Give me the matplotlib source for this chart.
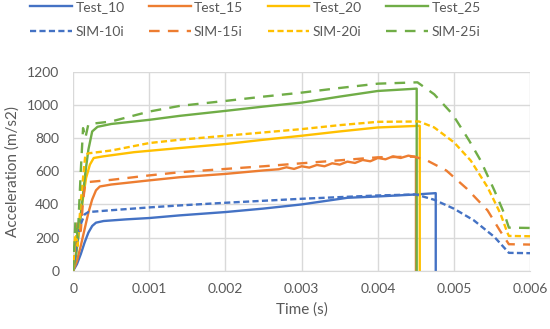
import matplotlib.pyplot as plt

plt.rcParams['font.family'] = ['Lato', 'DejaVu Sans']

# Test curves (time in s, acceleration in m/s2)
t_test10 = [0, 0.00005, 0.0001, 0.00015, 0.0002, 0.00025, 0.0003, 0.0004, 0.0007, 0.001,
            0.0014, 0.002, 0.0025, 0.003, 0.0036, 0.004, 0.0045, 0.00476, 0.00476]
a_test10 = [0, 40, 100, 170, 230, 270, 290, 300, 310, 318,
            334, 354, 375, 400, 440, 448, 460, 468, 0]

t_test15 = [0, 0.00005, 0.0001, 0.00015, 0.0002, 0.00025, 0.0003, 0.00035, 0.0005, 0.001,
            0.0014, 0.002, 0.0025, 0.0027, 0.0028, 0.0029, 0.003, 0.0031, 0.0032, 0.0033,
            0.0034, 0.0035, 0.0036, 0.0037, 0.0038, 0.0039, 0.004, 0.0041, 0.0042, 0.0043,
            0.0044, 0.0045, 0.0045]
a_test15 = [0, 60, 150, 250, 350, 430, 485, 508, 520, 545,
            564, 584, 605, 612, 624, 614, 630, 622, 638, 630,
            648, 640, 658, 650, 668, 660, 680, 672, 690, 680,
            694, 686, 0]

t_test20 = [0, 0.00003, 0.00006, 0.0001, 0.00013, 0.00017, 0.00022, 0.00027, 0.0004, 0.0008,
            0.0014, 0.002, 0.0025, 0.003, 0.0035, 0.004, 0.00455, 0.00455]
a_test20 = [0, 80, 200, 340, 440, 560, 640, 680, 690, 715,
            740, 764, 790, 814, 840, 864, 874, 0]

t_test25 = [0, 0.00004, 0.00008, 0.00012, 0.00016, 0.0002, 0.00025, 0.00032, 0.0005, 0.001,
            0.0014, 0.002, 0.0025, 0.003, 0.0035, 0.004, 0.00451, 0.00451]
a_test25 = [0, 100, 250, 420, 590, 730, 840, 868, 885, 910,
            934, 964, 990, 1014, 1050, 1084, 1098, 0]

# Simulation curves
t_sim10 = [0, 0.00003, 0.00006, 0.0001, 0.00015, 0.0002, 0.0005, 0.001, 0.0014, 0.002, 0.0025,
           0.003, 0.0035, 0.004, 0.0045, 0.00474, 0.005, 0.00526, 0.00553, 0.00572, 0.006]
a_sim10 = [0, 120, 200, 280, 340, 354, 365, 382, 394, 410, 422,
           434, 444, 454, 460, 428, 374, 304, 204, 108, 106]

t_sim15 = [0, 0.00003, 0.00006, 0.0001, 0.00013, 0.00016, 0.0002, 0.0005, 0.001, 0.0014, 0.002,
           0.0025, 0.003, 0.0035, 0.004, 0.00448, 0.00465, 0.0049, 0.00517, 0.00544, 0.0056,
           0.00572, 0.006]
a_sim15 = [0, 180, 300, 240, 420, 530, 535, 548, 575, 594, 614,
           630, 648, 666, 684, 688, 664, 604, 494, 364, 244,
           160, 158]

t_sim20 = [0, 0.00003, 0.00006, 0.0001, 0.00013, 0.00016, 0.0002, 0.0005, 0.001, 0.0014, 0.002,
           0.0025, 0.003, 0.0035, 0.004, 0.00454, 0.00474, 0.005, 0.00522, 0.00544, 0.00561,
           0.0057, 0.00572, 0.006]
a_sim20 = [0, 250, 150, 420, 560, 700, 708, 725, 770, 790, 814,
           834, 854, 878, 898, 900, 864, 774, 664, 504, 344,
           230, 210, 208]

t_sim25 = [0, 0.00003, 0.00006, 0.0001, 0.00013, 0.00016, 0.0002, 0.0005, 0.001, 0.0014, 0.002,
           0.0025, 0.003, 0.0035, 0.004, 0.00452, 0.00474, 0.00498, 0.0052, 0.00535, 0.00553,
           0.00566, 0.00572, 0.006]
a_sim25 = [0, 300, 200, 600, 860, 800, 884, 900, 960, 994, 1024,
           1050, 1074, 1102, 1128, 1136, 1064, 944, 784, 664, 484,
           344, 260, 258]

blue, orange, yellow, green = '#4472C4', '#ED7D31', '#FFC000', '#70AD47'

fig = plt.figure(figsize=(5.5, 3.29), dpi=100)
ax = fig.add_axes([0.133, 0.177, 0.831, 0.605])

lw = 1.7
short = (2.6, 1.4)
long = (4.5, 3.5)
h_t10, = ax.plot(t_test10, a_test10, color=blue, lw=lw, label='Test_10')
h_t15, = ax.plot(t_test15, a_test15, color=orange, lw=lw, label='Test_15')
h_t20, = ax.plot(t_test20, a_test20, color=yellow, lw=lw, label='Test_20')
h_t25, = ax.plot(t_test25, a_test25, color=green, lw=lw, label='Test_25')
h_s10, = ax.plot(t_sim10, a_sim10, color=blue, lw=lw, dashes=short, label='SIM-10i')
h_s15, = ax.plot(t_sim15, a_sim15, color=orange, lw=lw, dashes=long, label='SIM-15i')
h_s20, = ax.plot(t_sim20, a_sim20, color=yellow, lw=lw, dashes=short, label='SIM-20i')
h_s25, = ax.plot(t_sim25, a_sim25, color=green, lw=lw, dashes=long, label='SIM-25i')

ax.set_xlim(0, 0.006)
ax.set_ylim(0, 1200)
ax.set_xticks([0, 0.001, 0.002, 0.003, 0.004, 0.005, 0.006])
ax.set_xticklabels(['0', '0.001', '0.002', '0.003', '0.004', '0.005', '0.006'])
ax.set_yticks(range(0, 1201, 200))
ax.grid(True, color='#D9D9D9', lw=1)
ax.set_axisbelow(True)
for s in ['top', 'right', 'left']:
    ax.spines[s].set_visible(False)
ax.spines['bottom'].set_color('#D9D9D9')
ax.tick_params(length=0, labelsize=10, colors='#595959')
ax.tick_params(axis='y', pad=10)
ax.tick_params(axis='x', pad=9)
ax.set_xlabel('Time (s)', fontsize=11, color='#595959', labelpad=5)
ax.set_ylabel('Acceleration (m/s2)', fontsize=11, color='#595959', labelpad=5)

# legend filled row by row: column-major order of handles
handles = [h_t10, h_s10, h_t15, h_s15, h_t20, h_s20, h_t25, h_s25]
fig.legend(handles=handles, labels=[h.get_label() for h in handles],
           loc='upper left', bbox_to_anchor=(0.045, 1.015), ncol=4, frameon=False,
           fontsize=10, handlelength=3.0, handletextpad=0.25, columnspacing=1.75,
           labelcolor='#595959', borderaxespad=0, labelspacing=0.95)

fig.savefig('out.png', dpi=100)
